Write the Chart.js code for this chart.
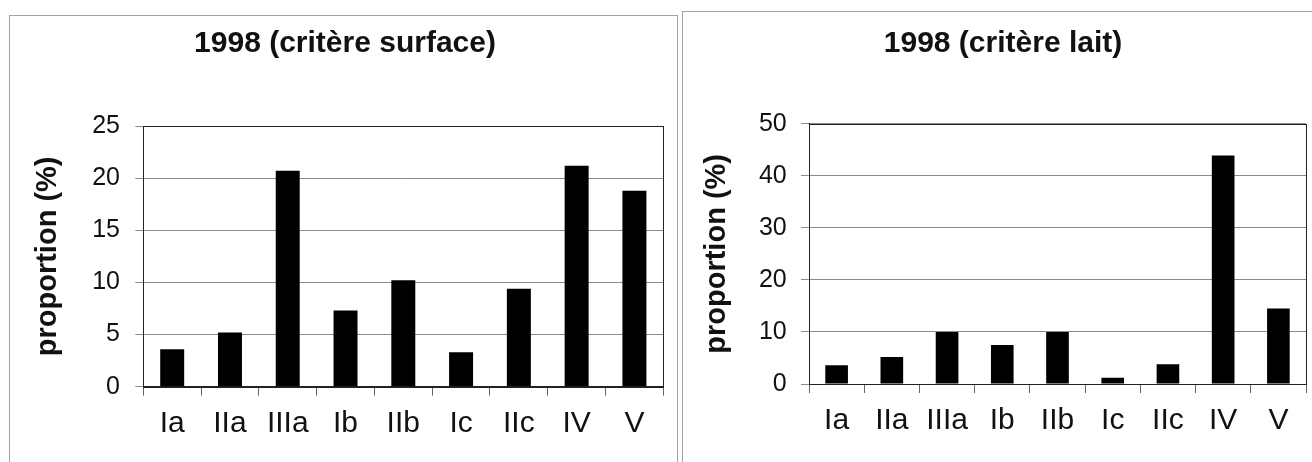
<!DOCTYPE html>
<html lang="fr">
<head>
<meta charset="UTF-8">
<title>Proportion par type - 1998</title>
<script src="https://cdn.jsdelivr.net/npm/chart.js@4.4.0/dist/chart.umd.min.js"></script>
<style>
    body { margin: 0; background: #fff; width: 1312px; height: 462px; overflow: hidden; position: relative; }
    .cadre { position: absolute; border: 1px solid #a4a4a4; border-bottom: none; height: 480px; }
    #cadre1 { left: 9px; top: 15px; width: 667px; }
    #cadre2 { left: 682px; top: 11px; width: 660px; }
    canvas { position: absolute; }
    #graph1 { left: 0; top: 15px; }
    #graph2 { left: 682px; top: 11px; }
</style>
</head>
<body>
<div class="cadre" id="cadre1"></div>
<div class="cadre" id="cadre2"></div>
<canvas id="graph1" width="680" height="447"></canvas>
<canvas id="graph2" width="630" height="451"></canvas>

<script>
// types d'exploitation
const categories = ['Ia', 'IIa', 'IIIa', 'Ib', 'IIb', 'Ic', 'IIc', 'IV', 'V'];

// proportion (%) selon le critere surface
const surfaceValues = [3.6, 5.2, 20.7, 7.3, 10.2, 3.3, 9.4, 21.2, 18.8];
const surfaceTicks = [0, 5, 10, 15, 20, 25];

// proportion (%) selon le critere lait
const laitValues = [3.6, 5.2, 10.0, 7.5, 10.0, 1.2, 3.8, 43.9, 14.5];
const laitTicks = [0, 10, 20, 30, 40, 50];

const police = "'Liberation Sans', Arial, sans-serif";

// cadre noir autour de la zone de tracé
const cadrePlugin = {
    id: 'cadre',
    afterDraw(chart) {
        const a = chart.chartArea;
        const ctx = chart.ctx;
        ctx.save();
        ctx.strokeStyle = '#222';
        ctx.lineWidth = 1;
        ctx.strokeRect(Math.round(a.left) + 0.5, Math.round(a.top) + 0.5,
                       Math.round(a.right - a.left), Math.round(a.bottom - a.top));
        ctx.restore();
    }
};

function graphique(id, titre, valeurs, ticks, r) {
    const ctx = document.getElementById(id).getContext('2d');
    return new Chart(ctx, {
        type: 'bar',
        data: {
            labels: categories,
            datasets: [{
                data: valeurs,
                backgroundColor: '#000',
                borderColor: '#000',
                borderWidth: 0,
                categoryPercentage: 1,
                barPercentage: r.barre
            }]
        },
        options: {
            responsive: false,
            animation: false,
            layout: { padding: { left: r.gauche, right: r.droite, top: 0, bottom: 0 } },
            plugins: {
                legend: { display: false },
                tooltip: { enabled: false },
                title: {
                    display: true,
                    text: titre,
                    color: '#111',
                    font: { family: police, size: 30, weight: 'bold' },
                    padding: { top: r.titreHaut, bottom: r.titreBas }
                }
            },
            scales: {
                x: {
                    grid: { drawOnChartArea: false, drawTicks: true, tickLength: 9, color: '#666' },
                    border: { color: '#222' },
                    ticks: { color: '#111', padding: r.xPad, font: { family: police, size: 30 } },
                    afterFit(s) { s.height = r.xHaut; }
                },
                y: {
                    min: ticks[0],
                    max: ticks[ticks.length - 1],
                    afterBuildTicks(s) { s.ticks = ticks.map(v => ({ value: v })); },
                    grid: { color: '#8a8a8a', tickLength: 8 },
                    border: { color: '#222' },
                    ticks: { color: '#111', padding: r.yPad, font: { family: police, size: 25 } },
                    title: {
                        display: true,
                        text: 'proportion (%)',
                        color: '#111',
                        font: { family: police, size: 29, weight: 'bold' },
                        padding: { top: r.yTitre, bottom: 0 }
                    },
                    afterFit(s) { s.width = r.yLarg; }
                }
            }
        },
        plugins: [cadrePlugin]
    });
}

graphique('graph1', '1998 (critère surface)', surfaceValues, surfaceTicks, {
    barre: 0.415, gauche: 26.7, droite: 16.7, titreHaut: 10.3, titreBas: 64.7,
    xHaut: 75.3, xPad: 10.3, yPad: 15.3, yLarg: 116.6, yTitre: 3.9
});

graphique('graph2', '1998 (critère lait)', laitValues, laitTicks, {
    barre: 0.41, gauche: 18, droite: 6, titreHaut: 14.3, titreBas: 62.4,
    xHaut: 78, xPad: 10, yPad: 14.3, yLarg: 109, yTitre: 0
});
</script>
</body>
</html>
